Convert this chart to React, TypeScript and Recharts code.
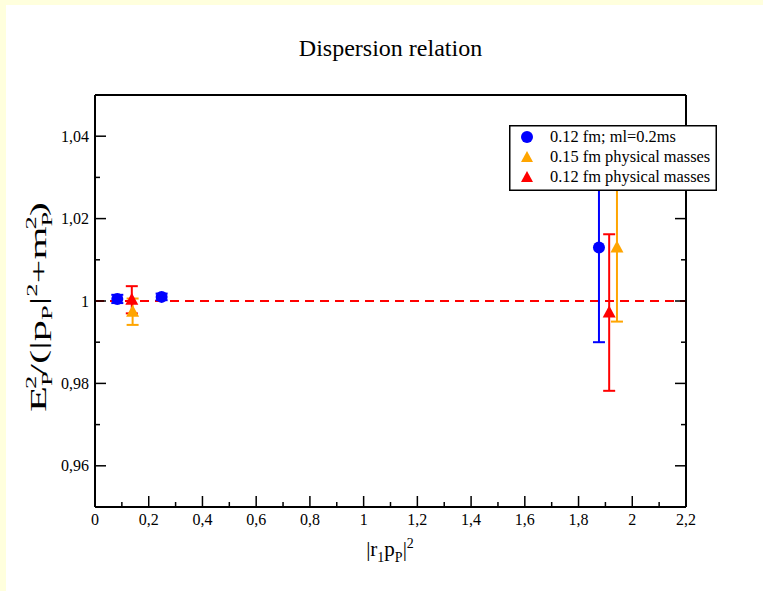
import React from 'react';
import { ScatterChart, Scatter, XAxis, YAxis, ErrorBar, ReferenceLine, Legend } from 'recharts';

const seriesNames = ['0.12 fm; ml=0.2ms', '0.15 fm physical masses', '0.12 fm physical masses'];
const seriesColors = ['#0000ff', '#ffa500', '#ff0000'];

// 0.12 fm; ml=0.2ms
const ml02X = [0.083, 0.248, 1.876];
const ml02Y = [1.0005, 1.001, 1.013];
const ml02Err = [0.001, 0.0008, 0.023];

// 0.15 fm physical masses
const phys015X = [0.14, 1.943];
const phys015Y = [0.9974, 1.013];
const phys015Err = [0.0032, 0.018];

// 0.12 fm physical masses
const phys012X = [0.137, 1.914];
const phys012Y = [1.0003, 0.9972];
const phys012Err = [0.0033, 0.019];

const xTicks = [0, 0.1, 0.2, 0.3, 0.4, 0.5, 0.6, 0.7, 0.8, 0.9, 1, 1.1, 1.2, 1.3, 1.4, 1.5, 1.6, 1.7, 1.8, 1.9, 2, 2.1, 2.2];
const xLabels = [0, 0.2, 0.4, 0.6, 0.8, 1, 1.2, 1.4, 1.6, 1.8, 2, 2.2];
const yTicks = [0.95, 0.96, 0.97, 0.98, 0.99, 1, 1.01, 1.02, 1.03, 1.04, 1.05];
const yLabels = [0.96, 0.98, 1, 1.02, 1.04];

const toRows = (xs: number[], ys: number[], errs: number[]) =>
  xs.map((x, i) => ({ x, y: ys[i], err: errs[i] }));

const ml02Data = toRows(ml02X, ml02Y, ml02Err);
const phys015Data = toRows(phys015X, phys015Y, phys015Err);
const phys012Data = toRows(phys012X, phys012Y, phys012Err);

const FONT = '"Liberation Serif", "Times New Roman", serif';
const MAJOR = 11;
const MINOR = 5;

const isIn = (v: number, list: number[]) => list.some((m) => Math.abs(m - v) < 1e-9);
const fmt = (v: number) => String(v).replace('.', ',');

const BottomTick = (props: any) => {
  const { x, y, payload } = props;
  const major = isIn(payload.value, xLabels);
  return (
    <g>
      <line x1={x} y1={y} x2={x} y2={y - (major ? MAJOR : MINOR)} stroke="#000" strokeWidth={1.5} />
      {major && (
        <text x={x} y={y + 18} textAnchor="middle" fontFamily={FONT} fontSize={16} fill="#000">
          {fmt(payload.value)}
        </text>
      )}
    </g>
  );
};

const TopTick = (props: any) => {
  const { x, y, payload } = props;
  const major = isIn(payload.value, xLabels);
  return <line x1={x} y1={y} x2={x} y2={y + (major ? MAJOR : MINOR)} stroke="#000" strokeWidth={1.5} />;
};

const LeftTick = (props: any) => {
  const { x, y, payload } = props;
  const major = isIn(payload.value, yLabels);
  return (
    <g>
      <line x1={x} y1={y} x2={x + (major ? MAJOR : MINOR)} y2={y} stroke="#000" strokeWidth={1.5} />
      {major && (
        <text x={x - 6} y={y + 5.5} textAnchor="end" fontFamily={FONT} fontSize={16} fill="#000">
          {fmt(payload.value)}
        </text>
      )}
    </g>
  );
};

const RightTick = (props: any) => {
  const { x, y, payload } = props;
  const major = isIn(payload.value, yLabels);
  return <line x1={x} y1={y} x2={x - (major ? MAJOR : MINOR)} y2={y} stroke="#000" strokeWidth={1.5} />;
};

const Dot = (color: string) => (props: any) => <circle cx={props.cx} cy={props.cy} r={6} fill={color} />;

const Tri = (color: string) => (props: any) => {
  const { cx, cy } = props;
  return <polygon points={`${cx},${cy - 7} ${cx + 6.5},${cy + 5} ${cx - 6.5},${cy + 5}`} fill={color} />;
};

const LegendBox = () => (
  <svg width={208} height={66} style={{ display: 'block' }}>
    <rect x={0.75} y={0.75} width={206.5} height={64.5} fill="#fff" stroke="#000" strokeWidth={1.5} />
    {seriesNames.map((name, i) => {
      const cy = 12 + i * 20;
      return (
        <g key={name}>
          {i === 0 ? (
            <circle cx={18} cy={cy} r={6} fill={seriesColors[i]} />
          ) : (
            <polygon points={`${18},${cy - 6} ${24},${cy + 5} ${12},${cy + 5}`} fill={seriesColors[i]} />
          )}
          <text x={41} y={cy + 5} fontFamily={FONT} fontSize={16.4} fill="#000">
            {name}
          </text>
        </g>
      );
    })}
  </svg>
);

const sub = { fontSize: 15 };

export default function App() {
  return (
    <div style={{ position: 'absolute', left: 0, top: 0, width: 763, height: 591, background: '#ffffdd' }}>
      <div style={{ position: 'absolute', left: 6, top: 5, width: 757, height: 586, background: '#fff' }}>
        <ScatterChart width={757} height={586} margin={{ top: 70, right: 57, bottom: 44, left: 29 }}>
          <XAxis
            dataKey="x"
            type="number"
            domain={[0, 2.2]}
            ticks={xTicks}
            interval={0}
            allowDataOverflow
            height={40}
            tickSize={0}
            tickMargin={0}
            tickLine={false}
            tick={<BottomTick />}
            axisLine={{ stroke: '#000', strokeWidth: 2 }}
          />
          <XAxis
            xAxisId="top"
            orientation="top"
            type="number"
            domain={[0, 2.2]}
            ticks={xTicks}
            interval={0}
            allowDataOverflow
            height={20}
            tickSize={0}
            tickMargin={0}
            tickLine={false}
            tick={<TopTick />}
            axisLine={{ stroke: '#000', strokeWidth: 2 }}
          />
          <YAxis
            dataKey="y"
            type="number"
            domain={[0.95, 1.05]}
            ticks={yTicks}
            interval={0}
            allowDataOverflow
            width={60}
            tickSize={0}
            tickMargin={0}
            tickLine={false}
            tick={<LeftTick />}
            axisLine={{ stroke: '#000', strokeWidth: 2 }}
          />
          <YAxis
            yAxisId="right"
            orientation="right"
            type="number"
            domain={[0.95, 1.05]}
            ticks={yTicks}
            interval={0}
            allowDataOverflow
            width={20}
            tickSize={0}
            tickMargin={0}
            tickLine={false}
            tick={<RightTick />}
            axisLine={{ stroke: '#000', strokeWidth: 2 }}
          />
          <ReferenceLine y={1} stroke="#ff0000" strokeWidth={2} strokeDasharray="9 6" />
          <Scatter name={seriesNames[0]} data={ml02Data} shape={Dot(seriesColors[0])} isAnimationActive={false}>
            <ErrorBar dataKey="err" direction="y" width={6} stroke={seriesColors[0]} strokeWidth={2} />
          </Scatter>
          <Scatter name={seriesNames[1]} data={phys015Data} shape={Tri(seriesColors[1])} isAnimationActive={false}>
            <ErrorBar dataKey="err" direction="y" width={6} stroke={seriesColors[1]} strokeWidth={2} />
          </Scatter>
          <Scatter name={seriesNames[2]} data={phys012Data} shape={Tri(seriesColors[2])} isAnimationActive={false}>
            <ErrorBar dataKey="err" direction="y" width={6} stroke={seriesColors[2]} strokeWidth={2} />
          </Scatter>
          <Legend
            layout="vertical"
            align="center"
            verticalAlign="middle"
            content={() => <LegendBox />}
            wrapperStyle={{ left: 503, top: 120, width: 208, height: 66 }}
          />
        </ScatterChart>
        <svg width={757} height={586} style={{ position: 'absolute', left: 0, top: 0, pointerEvents: 'none' }}>
          <text x={384.5} y={51} textAnchor="middle" fontFamily={FONT} fontSize={24} fill="#000">
            Dispersion relation
          </text>
          <text x={384} y={551} textAnchor="middle" fontFamily={FONT} fontSize={21} fill="#000">
            |r<tspan dy={6} style={{ fontSize: 14 }}>1</tspan>
            <tspan dy={-6}>p</tspan>
            <tspan dy={6} style={{ fontSize: 14 }}>P</tspan>
            <tspan dy={-6}>|</tspan>
            <tspan dy={-8} style={{ fontSize: 14 }}>2</tspan>
          </text>
          <text
            x={0}
            y={0}
            transform="translate(40, 302) rotate(-90)"
            textAnchor="middle"
            fontFamily={FONT}
            fontSize={24}
            fill="#000"
            textLength={210}
            lengthAdjust="spacingAndGlyphs"
          >
            E<tspan dy={6} style={sub}>P</tspan>
            <tspan dx={-10} dy={-16} style={sub}>2</tspan>
            <tspan dy={10}>/(|p</tspan>
            <tspan dy={6} style={sub}>P</tspan>
            <tspan dy={-6}>|</tspan>
            <tspan dy={-9} style={sub}>2</tspan>
            <tspan dy={9}>+m</tspan>
            <tspan dy={6} style={sub}>P</tspan>
            <tspan dx={-10} dy={-16} style={sub}>2</tspan>
            <tspan dy={10}>)</tspan>
          </text>
        </svg>
      </div>
    </div>
  );
}
